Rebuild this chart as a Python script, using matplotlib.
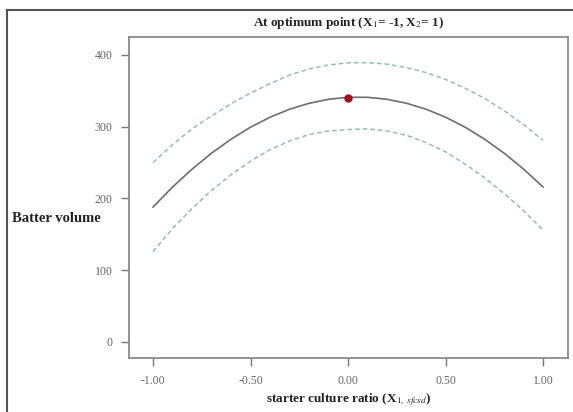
import matplotlib
matplotlib.use("Agg")
import matplotlib.pyplot as plt
from matplotlib.lines import Line2D

plt.rcParams['font.family'] = ['Liberation Serif', 'DejaVu Serif']
plt.rcParams['mathtext.fontset'] = 'stix'

x_vals = [-1.0, -0.9, -0.8, -0.7, -0.6, -0.5, -0.4, -0.3, -0.2, -0.1, 0.0,
          0.1, 0.2, 0.3, 0.4, 0.5, 0.6, 0.7, 0.8, 0.9, 1.0]
fit_vals = [188, 215.8, 240.8, 263.1, 282.6, 299.3, 313.2, 324.3, 332.6, 338.2, 341,
            341, 338.2, 332.7, 324.4, 313.3, 299.4, 282.7, 263.2, 241, 216]
upper_vals = [250, 275, 297, 315, 332, 347, 360, 372, 380.5, 386, 389,
              389.3, 387.2, 382.5, 375.4, 365.9, 353.8, 339.4, 322.4, 303, 281]
lower_vals = [126, 158, 186, 211, 233, 252, 268, 280, 289, 294, 296,
              297, 294, 288, 278, 265, 248, 229, 207, 183, 156]
opt_x = [0.0]
opt_y = [340]

xticks = [-1.0, -0.5, 0.0, 0.5, 1.0]
xticklabels = ["-1.00", "-0.50", "0.00", "0.50", "1.00"]
yticks = [0, 100, 200, 300, 400]
yticklabels = ["0", "100", "200", "300", "400"]

fig = plt.figure(figsize=(5.73, 4.12), dpi=100)
ax = fig.add_axes([129/573, 1-358/412, (568-129)/573, (358-37)/412])

ax.plot(x_vals, upper_vals, color='#98bcb4', lw=1.1, ls=(0, (3, 2)))
ax.plot(x_vals, lower_vals, color='#98bcb4', lw=1.1, ls=(0, (3, 2)))
ax.plot(x_vals, fit_vals, color='#6e6e6e', lw=1.2)
ax.plot(opt_x, opt_y, 'o', color='#a0101c', ms=5, zorder=5)

ax.set_xlim(-1.123, 1.128)
ax.set_ylim(-22.3, 425)
ax.set_xticks(xticks)
ax.set_xticklabels(xticklabels)
ax.set_yticks(yticks)
ax.set_yticklabels(yticklabels)
ax.tick_params(direction='out', length=6, width=1, color='#777777',
               labelsize=8.5, labelcolor='#666666', pad=6)
for s in ax.spines.values():
    s.set_color('#8a8a8a')
    s.set_linewidth(1.3)

ax.set_title(r"At optimum point (X$_{1}$= -1, X$_{2}$= 1)", fontsize=9.5,
             fontweight='bold', pad=8, color='#222222')
ax.set_xlabel(r"starter culture ratio (X$_{1,\ sfcsd}$)", fontsize=9.5,
              fontweight='bold', labelpad=3, color='#222222')
fig.text(56/573, 1-218/412, "Batter volume", fontsize=10.5, fontweight='bold',
         ha='center', va='center', color='#222222')

# outer frame
fig.add_artist(Line2D([7/573, 7/573], [0, 1-10/412], color='#555555', lw=1.5,
                      transform=fig.transFigure))
fig.add_artist(Line2D([7/573, 1], [1-10/412, 1-10/412], color='#555555', lw=1.5,
                      transform=fig.transFigure))

fig.savefig("out.png", dpi=100)
